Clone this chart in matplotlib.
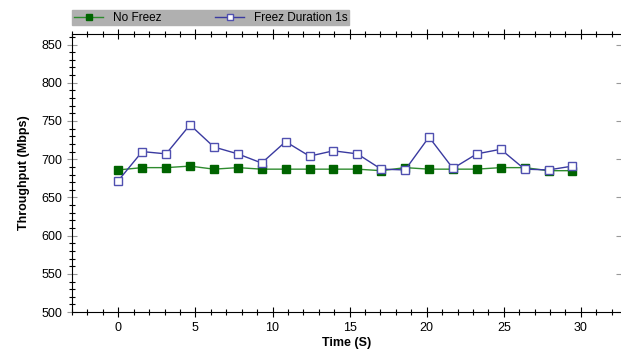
import matplotlib.pyplot as plt
from matplotlib.ticker import MultipleLocator

plt.rcParams['font.family'] = ['Liberation Sans', 'DejaVu Sans']

# time samples (s)
time_s = [0, 1.55, 3.1, 4.65, 6.2, 7.75, 9.3, 10.85, 12.4, 13.95,
          15.5, 17.05, 18.6, 20.15, 21.7, 23.25, 24.8, 26.35, 27.9, 29.45]
no_freez = [686, 689, 689, 691, 687, 689, 687, 687, 687, 687,
            687, 685, 689, 687, 687, 687, 689, 689, 685, 685]
freez_1s = [672, 710, 707, 745, 716, 707, 695, 723, 704, 711,
            707, 687, 686, 729, 688, 707, 713, 687, 686, 691]

fig = plt.figure(figsize=(6.21, 3.6), dpi=100)
ax = fig.add_axes([0.116, 0.133, 0.884, 0.773])

ax.plot(time_s, no_freez, color='#2e8b2e', marker='s', markersize=5.5,
        markerfacecolor='#006400', markeredgecolor='#006400', linewidth=1,
        label='No Freez')
ax.plot(time_s, freez_1s, color='#3a3aa0', marker='s', markersize=5.5,
        markerfacecolor='white', markeredgecolor='#5050b0', linewidth=1,
        label='Freez Duration 1s')

ax.set_xlim(-3, 32.6)
ax.set_ylim(500, 864)
ax.xaxis.set_major_locator(MultipleLocator(5))
ax.xaxis.set_minor_locator(MultipleLocator(1))
ax.yaxis.set_major_locator(MultipleLocator(50))
ax.yaxis.set_minor_locator(MultipleLocator(10))
ax.spines['right'].set_visible(False)
ax.tick_params(which='both', direction='inout', labelsize=9, width=0.8)
ax.tick_params(which='major', length=7)
ax.tick_params(which='minor', length=4)
ax.tick_params(axis='x', which='both', top=True)
ax.tick_params(axis='x', which='major', top=True)
ax.tick_params(axis='y', which='major', right=True, color='#999999')
ax.tick_params(axis='y', which='major', left=True)

ax.set_xlabel('Time (S)', fontsize=9, fontweight='bold', labelpad=2)
ax.set_ylabel('Throughput (Mbps)', fontsize=9, fontweight='bold', labelpad=8)

leg = ax.legend(loc='lower left', bbox_to_anchor=(0.0, 1.03, 0.505, 0.06),
                ncol=2, mode='expand', frameon=True, fancybox=False,
                fontsize=8.5, borderpad=0.15, handlelength=2.5,
                borderaxespad=0, columnspacing=1.5, markerscale=0.8)
leg.get_frame().set_facecolor('#b0b0b0')
leg.get_frame().set_edgecolor('#b0b0b0')
leg.get_frame().set_alpha(1)

fig.savefig('out.png', dpi=100)
